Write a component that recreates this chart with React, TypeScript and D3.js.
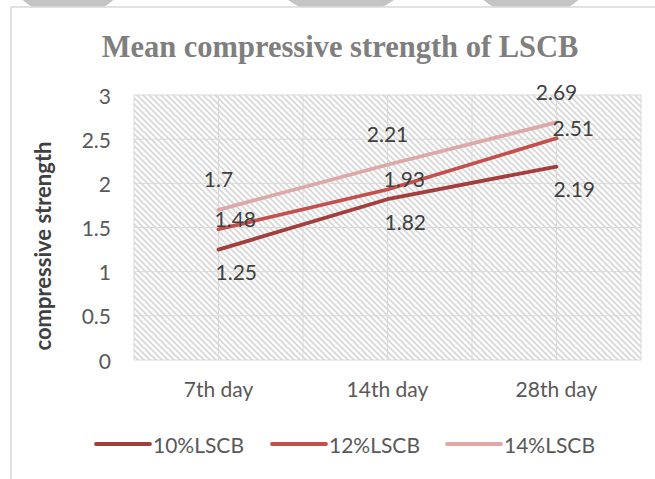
import * as React from 'react';
import * as d3 from 'd3';

const days = ['7th day', '14th day', '28th day'];
const seriesNames = ['10%LSCB', '12%LSCB', '14%LSCB'];
const lscb10 = [1.25, 1.82, 2.19];
const lscb12 = [1.48, 1.93, 2.51];
const lscb14 = [1.7, 2.21, 2.69];
const yTicks = [0, 0.5, 1, 1.5, 2, 2.5, 3];

const colors = ['#a23e3d', '#c4504e', '#dca9a8'];
// label offsets per series: [dx, dy, anchor]
const labelPos: [number, number, string][] = [
  [-3, 22, 'start'],
  [-4, -11, 'start'],
  [0, -31, 'middle'],
];

const W = 655;
const H = 479;
const font = 'Lato, "Open Sans", sans-serif';

const App: React.FC = () => {
  const series = [lscb10, lscb12, lscb14];
  const x = d3.scaleBand<string>().domain(days).range([134, 641]);
  const y = d3.scaleLinear().domain([0, 3]).range([360, 95]);
  const cx = (d: string) => (x(d) || 0) + x.bandwidth() / 2;
  const line = d3.line<number>().x((_, i) => cx(days[i])).y((v) => y(v));

  const vgrid: number[] = [];
  days.forEach((d) => {
    vgrid.push(x(d) || 0, cx(d));
  });
  vgrid.push(641);

  // legend layout
  const legendX = [96, 272, 447];

  return (
    <svg width={W} height={H} style={{ position: 'absolute', left: 0, top: 0 }}>
      <defs>
        <pattern id="hatch" width="6" height="6" patternUnits="userSpaceOnUse">
          <rect width="6" height="6" fill="#fff" />
          <path d="M-1,-1 L7,7 M-4,2 L2,8 M4,-2 L8,2" stroke="#d6d6d6" strokeWidth={1.6} />
        </pattern>
        <clipPath id="topclip">
          <rect x={0} y={0} width={W} height={8} />
        </clipPath>
      </defs>
      <rect width={W} height={H} fill="#fff" />
      {/* cut-off rings above the chart */}
      <g clipPath="url(#topclip)" fill="none" stroke="#c4c4c4" strokeWidth={22}>
        <circle cx={68} cy={-52} r={58} />
        <circle cx={341} cy={-74} r={80} />
        <circle cx={531} cy={-58} r={64} />
        <circle cx={705} cy={-66} r={72} />
      </g>
      <rect x={11} y={7} width={W} height={H} fill="#fff" stroke="#d9d9d9" strokeWidth={1.5} />

      <text x={340} y={57} textAnchor="middle" fontFamily='"Liberation Serif", serif' fontWeight="bold" fontSize={30.5} fill="#7f7f7f">
        Mean compressive strength of LSCB
      </text>

      <rect x={134} y={95} width={507} height={265} fill="url(#hatch)" />
      <g stroke="#d9d9d9" strokeWidth={1}>
        {yTicks.map((t) => (
          <line key={t} x1={134} x2={641} y1={y(t)} y2={y(t)} />
        ))}
        {vgrid.map((v, i) => (
          <line key={i} x1={v} x2={v} y1={95} y2={360} />
        ))}
      </g>

      <g fontFamily={font} fontSize={21} fill="#595959">
        {yTicks.map((t) => (
          <text key={t} x={111} y={y(t)} textAnchor="end" dominantBaseline="central">
            {t}
          </text>
        ))}
        {days.map((d) => (
          <text key={d} x={cx(d)} y={397} textAnchor="middle">
            {d}
          </text>
        ))}
      </g>

      <text
        transform="translate(42,246) rotate(-90)"
        textAnchor="middle"
        dominantBaseline="central"
        fontFamily={font}
        fontWeight="bold"
        fontSize={22}
        fill="#404040"
      >
        compressive strength
      </text>

      {series.map((s, k) => (
        <path
          key={k}
          d={line(s) || ''}
          fill="none"
          stroke={colors[k]}
          strokeWidth={3.8}
          strokeLinecap="round"
          strokeLinejoin="round"
        />
      ))}

      <g fontFamily={font} fontSize={21} fill="#404040">
        {series.map((s, k) =>
          s.map((v, i) => (
            <text
              key={k + '-' + i}
              x={cx(days[i]) + labelPos[k][0]}
              y={y(v) + labelPos[k][1]}
              textAnchor={labelPos[k][2]}
              dominantBaseline="central"
            >
              {v}
            </text>
          ))
        )}
      </g>

      <g fontFamily={font} fontSize={21} fill="#595959">
        {seriesNames.map((n, k) => (
          <g key={n}>
            <line
              x1={legendX[k]}
              x2={legendX[k] + 54}
              y1={444}
              y2={444}
              stroke={colors[k]}
              strokeWidth={3.8}
              strokeLinecap="round"
            />
            <text x={legendX[k] + 57} y={444} dominantBaseline="central">
              {n}
            </text>
          </g>
        ))}
      </g>
    </svg>
  );
};

export default App;
